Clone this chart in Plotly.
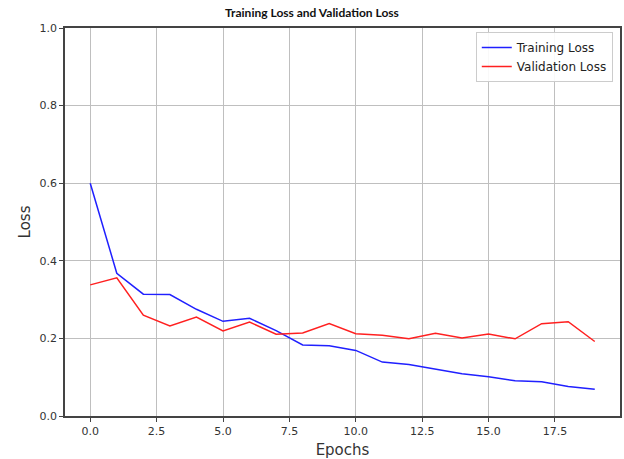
import plotly.graph_objects as go

epochs = list(range(20))
training_loss = [0.600, 0.368, 0.314, 0.313, 0.275, 0.244, 0.252, 0.220, 0.183, 0.181,
                 0.169, 0.139, 0.133, 0.121, 0.109, 0.101, 0.091, 0.088, 0.076, 0.069]
validation_loss = [0.338, 0.356, 0.260, 0.232, 0.255, 0.219, 0.242, 0.211, 0.214, 0.238,
                   0.212, 0.208, 0.199, 0.213, 0.201, 0.211, 0.199, 0.238, 0.243, 0.192]
x_ticks = [0, 2.5, 5, 7.5, 10, 12.5, 15, 17.5]
x_tick_labels = ["0.0", "2.5", "5.0", "7.5", "10.0", "12.5", "15.0", "17.5"]
y_ticks = [0, 0.2, 0.4, 0.6, 0.8, 1.0]
y_tick_labels = ["0.0", "0.2", "0.4", "0.6", "0.8", "1.0"]

fig = go.Figure()
fig.add_trace(go.Scatter(x=epochs, y=training_loss, mode="lines", name="Training Loss",
                         line=dict(color="#2020ff", width=1.5)))
fig.add_trace(go.Scatter(x=epochs, y=validation_loss, mode="lines", name="Validation Loss",
                         line=dict(color="#ff2020", width=1.5)))

axis_common = dict(showline=True, linecolor="#444444", linewidth=1.5, mirror=True,
                   ticks="outside", ticklen=4, tickcolor="#444444",
                   showgrid=True, gridcolor="#bfbfbf", gridwidth=1.3, zeroline=False,
                   tickfont=dict(family="DejaVu Sans", size=11, color="#333333"))

fig.update_layout(
    width=624, height=459,
    margin=dict(l=65, r=2, t=28, b=43),
    paper_bgcolor="white", plot_bgcolor="white",
    title=dict(text="<b>Training Loss and Validation Loss</b>", x=0.5, xanchor="center",
               y=0.972, yanchor="middle",
               font=dict(family="Lato", size=12, color="#111111")),
    xaxis=dict(range=[-0.95, 19.95], tickvals=x_ticks, ticktext=x_tick_labels,
               title=dict(text="Epochs", standoff=9,
                          font=dict(family="DejaVu Sans", size=15, color="#333333")),
               **axis_common),
    yaxis=dict(range=[0, 1.0], tickvals=y_ticks, ticktext=y_tick_labels,
               title=dict(text="Loss", standoff=5,
                          font=dict(family="DejaVu Sans", size=15, color="#333333")),
               **axis_common),
    legend=dict(x=0.987, y=0.99, xanchor="right", yanchor="top",
                bgcolor="rgba(255,255,255,0.9)", bordercolor="#cccccc", borderwidth=1,
                font=dict(family="DejaVu Sans", size=12, color="#222222"),
                tracegroupgap=0, itemwidth=30),
    showlegend=True,
)

fig.write_html("out.html")
